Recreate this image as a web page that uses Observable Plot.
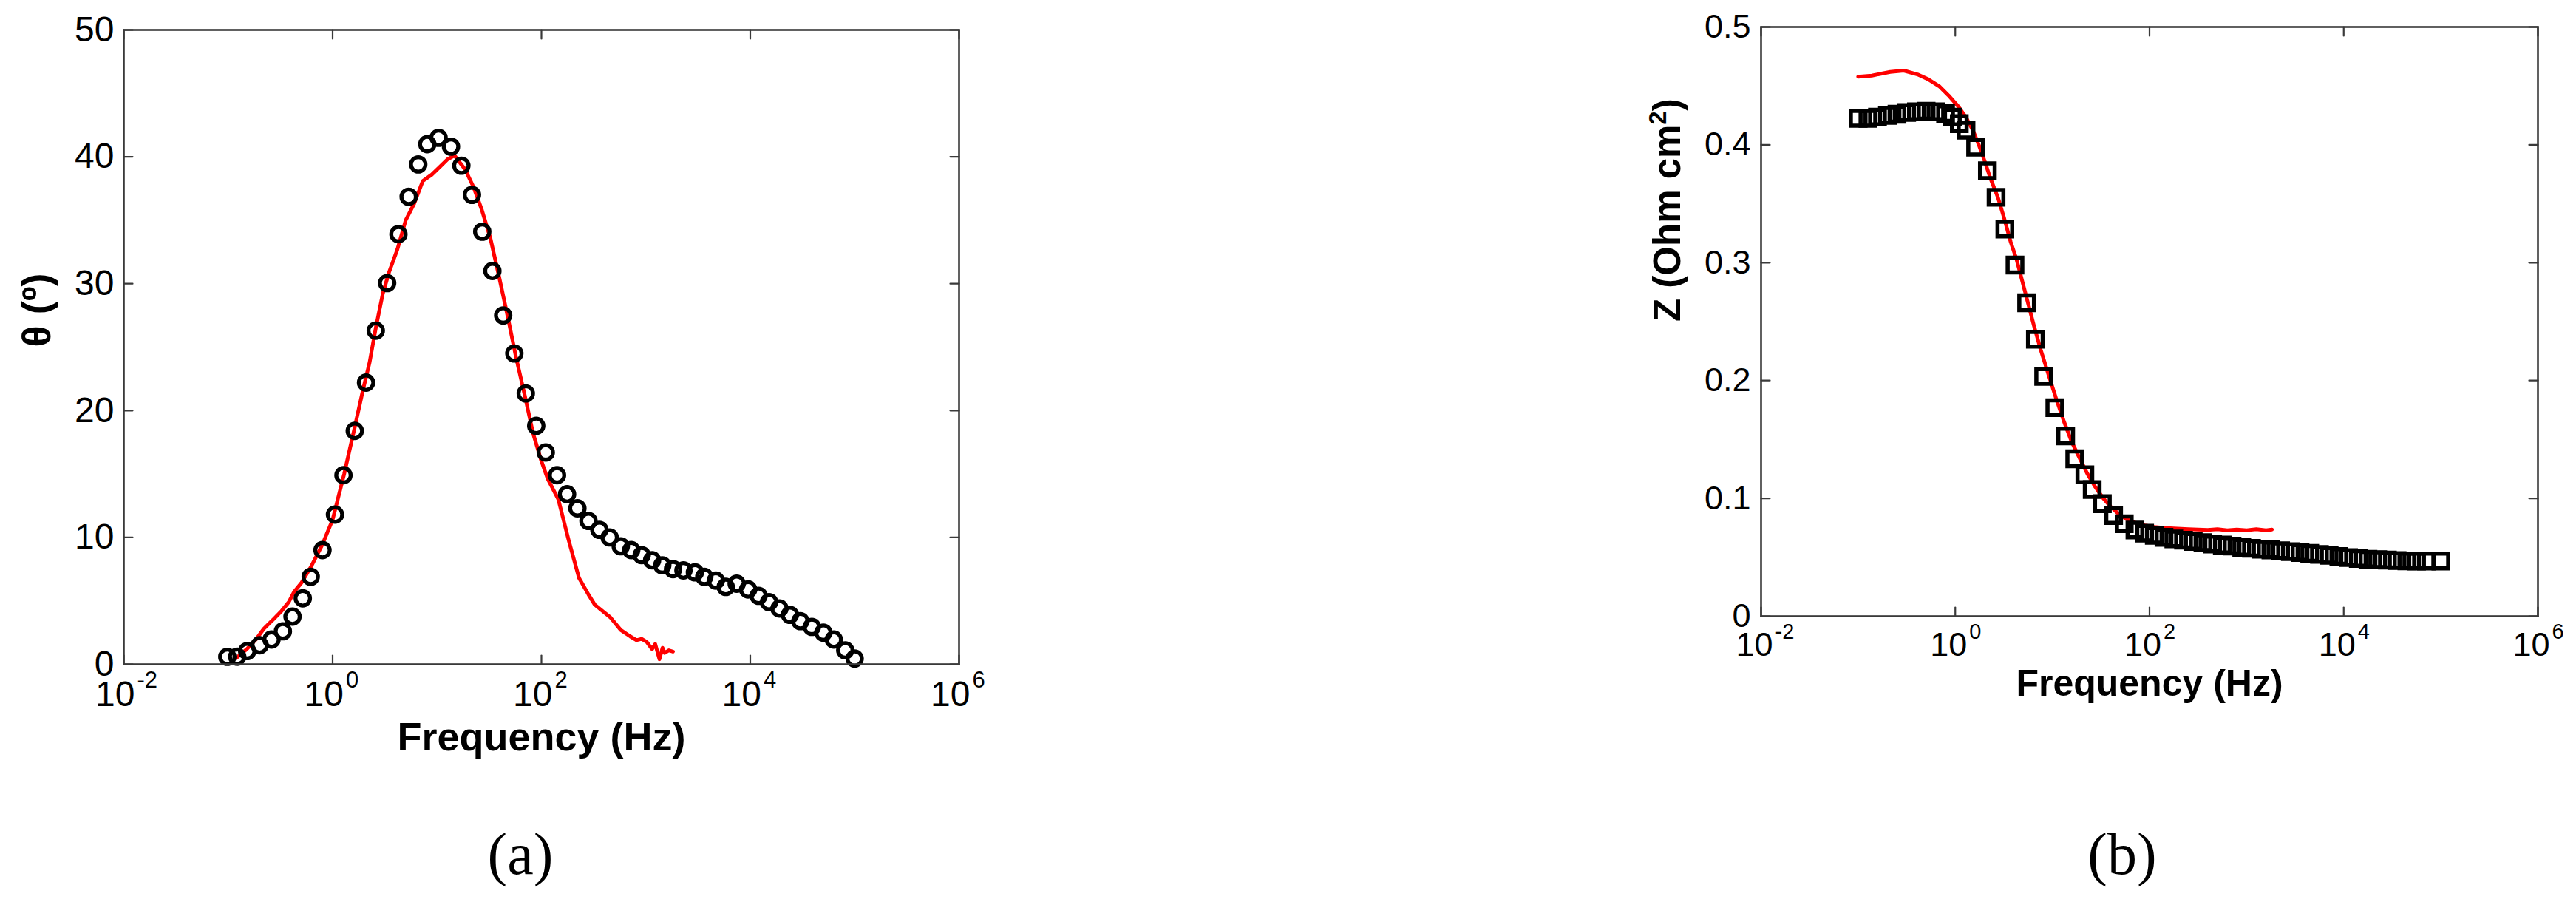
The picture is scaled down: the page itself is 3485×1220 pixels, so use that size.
<!DOCTYPE html>
<html>
<head>
<meta charset="utf-8">
<script src="https://cdn.jsdelivr.net/npm/d3@7"></script>
<script src="https://cdn.jsdelivr.net/npm/@observablehq/plot@0.6"></script>
<style>
  html, body { margin: 0; padding: 0; background: #fff; }
  #fig { position: relative; width: 3485px; height: 1220px; overflow: hidden; background: #fff; }
  .panel { position: absolute; top: 0; }
  .cap { position: absolute; top: 1115px; font-family: "Liberation Serif", "Times New Roman", serif;
         font-size: 80px; line-height: 80px; color: #000; transform: translateX(-50%); white-space: nowrap; }
</style>
</head>
<body>
<div id="fig">
  <div class="panel" id="pa" style="left:0px"></div>
  <div class="panel" id="pb" style="left:2100px"></div>
  <div class="cap" style="left:704px">(a)</div>
  <div class="cap" style="left:2871px">(b)</div>
</div>
<script>
// ---------------- data ----------------
// Panel (a): phase angle vs frequency
const freqA = [0.098, 0.122, 0.152, 0.200, 0.260, 0.334, 0.413, 0.518, 0.617, 0.80,
  1.054, 1.27, 1.63, 2.09, 2.59, 3.33, 4.27, 5.35, 6.61, 8.07,
  10.35, 13.6, 17.1, 21.6, 27.1, 33.9, 43.0, 55.0, 70.8, 89.1,
  110, 141, 176, 221, 282, 359, 450, 575, 724, 912,
  1148, 1436, 1820, 2291, 2951, 3631, 4677, 5821, 7413, 9550,
  12020, 15140, 19050, 23990, 30200, 38900, 50120, 63100, 81280, 100000];
const thetaA = [0.59, 0.6, 1.04, 1.5, 1.95, 2.6, 3.76, 5.2, 6.9, 9.0,
  11.8, 14.9, 18.4, 22.2, 26.3, 30.05, 33.9, 36.85, 39.4, 41.0,
  41.5, 40.8, 39.3, 37.0, 34.1, 31.0, 27.5, 24.5, 21.35, 18.8,
  16.7, 14.9, 13.4, 12.3, 11.3, 10.6, 10.0, 9.3, 9.0, 8.6,
  8.2, 7.8, 7.5, 7.4, 7.25, 6.9, 6.6, 6.1, 6.35, 5.9,
  5.4, 4.9, 4.4, 3.9, 3.4, 2.95, 2.5, 1.95, 1.1, 0.45];
const freqFitA = [0.120, 0.151, 0.186, 0.219, 0.275, 0.324, 0.380, 0.427, 0.501, 0.631,
  0.794, 1.0, 1.29, 1.62, 1.95, 2.26, 2.59, 3.02, 3.47, 4.17,
  5.01, 6.03, 7.31, 8.91, 10.6, 12.6, 14.7, 18.6, 22.4, 26.9,
  32.4, 39.4, 47.5, 57.1, 69.2, 83.2, 100, 115, 145, 182,
  229, 282, 324, 398, 457, 575, 708, 813, 912, 1023,
  1148, 1230, 1349, 1445, 1514, 1660, 1820];
const thetaFitA = [0.5, 1.2, 2.0, 2.8, 3.6, 4.2, 4.9, 5.7, 6.4, 7.8,
  9.4, 11.4, 15.0, 18.6, 21.6, 23.8, 26.5, 29.2, 30.9, 32.7,
  35.0, 36.3, 38.1, 38.6, 39.2, 39.8, 40.1, 39.0, 37.6, 35.8,
  33.6, 30.5, 27.4, 24.2, 21.2, 18.2, 16.0, 14.6, 13.0, 9.8,
  6.8, 5.5, 4.7, 4.1, 3.7, 2.7, 2.2, 1.9, 2.0, 1.75,
  1.2, 1.6, 0.4, 1.3, 0.9, 1.1, 1.0];

// Panel (b): impedance modulus vs frequency
const freqB = [0.1, 0.126, 0.158, 0.2, 0.251, 0.316, 0.398, 0.501, 0.631, 0.794,
  0.933, 1.10, 1.29, 1.62, 2.14, 2.63, 3.24, 4.12, 5.43, 6.68,
  8.13, 10.6, 13.7, 17.0, 21.6, 25.7, 32.7, 42.7, 55.0, 70.8,
  89.1, 112, 141, 178, 224, 282, 355, 447, 562, 708,
  891, 1122, 1413, 1778, 2239, 2818, 3548, 4467, 5623, 7079,
  8913, 11220, 14130, 17780, 22390, 28180, 35480, 44670, 56230, 70790, 100000];
const zB = [0.4225, 0.4225, 0.4235, 0.425, 0.426, 0.4275, 0.428, 0.4285, 0.428, 0.4265,
  0.4235, 0.418, 0.4125, 0.398, 0.378, 0.3555, 0.3285, 0.298, 0.266, 0.235,
  0.2035, 0.177, 0.153, 0.1336, 0.120, 0.1075, 0.0955, 0.0855, 0.0785, 0.0732,
  0.0705, 0.0686, 0.0670, 0.0656, 0.0645, 0.0635, 0.0624, 0.0613, 0.0604, 0.0595,
  0.0585, 0.0576, 0.0569, 0.0563, 0.0556, 0.0548, 0.0541, 0.0533, 0.0525, 0.0517,
  0.0507, 0.0498, 0.0490, 0.0484, 0.0480, 0.0477, 0.0473, 0.0470, 0.0469, 0.0469, 0.0469];
const freqFitB = [0.1, 0.138, 0.214, 0.295, 0.407, 0.525, 0.692, 0.851, 1.07, 1.29,
  1.53, 1.76, 2.0, 2.29, 2.75, 3.16, 3.72, 4.27, 4.90, 5.62,
  6.46, 7.59, 9.12, 11.0, 13.2, 15.8, 19.1, 22.9, 27.5, 33.1,
  39.8, 47.9, 57.5, 70.8, 89.1, 112, 141, 178, 251, 316,
  398, 501, 631, 794, 1000, 1259, 1585, 1820];
const zFitB = [0.4578, 0.4588, 0.4619, 0.463, 0.4598, 0.4557, 0.4494, 0.442, 0.4327, 0.4233,
  0.4118, 0.3992, 0.3866, 0.372, 0.3553, 0.3388, 0.3176, 0.303, 0.2842, 0.2654,
  0.2465, 0.226, 0.205, 0.184, 0.165, 0.148, 0.134, 0.121, 0.110, 0.1005,
  0.093, 0.087, 0.0825, 0.0795, 0.077, 0.0758, 0.075, 0.0745, 0.0738, 0.0735,
  0.0732, 0.0738, 0.073, 0.0735, 0.073, 0.0738, 0.073, 0.0735];

// Axis ticks
const xTickExp = [-2, 0, 2, 4, 6];
const yTicksA = [0, 10, 20, 30, 40, 50];
const yTicksB = [0, 0.1, 0.2, 0.3, 0.4, 0.5];

// ---------------- helpers ----------------
const axisColor = "#3a3a3a";
const tickShape = {draw(ctx, l) { ctx.moveTo(0, 0); ctx.lineTo(0, -l); }};
function boxTicks(xs, ys, len) {
  const o = {length: len, anchor: "start", shape: tickShape, stroke: axisColor, strokeWidth: 2.2};
  return [
    Plot.vector(xs, {x: d => d, frameAnchor: "bottom", rotate: 0, ...o}),
    Plot.vector(xs, {x: d => d, frameAnchor: "top", rotate: 180, ...o}),
    Plot.vector(ys, {y: d => d, frameAnchor: "left", rotate: 90, ...o}),
    Plot.vector(ys, {y: d => d, frameAnchor: "right", rotate: -90, ...o})
  ];
}
function xLogLabels(fs, fsSup, dxMain, dxSup, dyMain, dySup) {
  return [
    Plot.text(xTickExp, {x: d => Math.pow(10, d), text: () => "10", frameAnchor: "bottom",
      textAnchor: "end", dx: dxMain, dy: dyMain, fontSize: fs, fill: "#000"}),
    Plot.text(xTickExp, {x: d => Math.pow(10, d), text: d => String(d), frameAnchor: "bottom",
      textAnchor: "start", dx: dxSup, dy: dySup, fontSize: fsSup, fill: "#000"})
  ];
}
const font = "'Liberation Sans', Arial, Helvetica, sans-serif";

// ---------------- panel (a) ----------------
const dataA = freqA.map((f, i) => ({f, v: thetaA[i]}));
const fitA = freqFitA.map((f, i) => ({f, v: thetaFitA[i]}));
const plotA = Plot.plot({
  width: 1340, height: 1070,
  marginLeft: 167, marginRight: 43, marginTop: 40, marginBottom: 172,
  style: {fontFamily: font, background: "transparent", overflow: "visible", maxWidth: "none"},
  x: {type: "log", domain: [1e-2, 1e6], axis: null},
  y: {domain: [0, 50], axis: null},
  marks: [
    Plot.line(fitA, {x: "f", y: "v", stroke: "#ff0000", strokeWidth: 5}),
    Plot.dot(dataA, {x: "f", y: "v", r: 9.8, stroke: "#000", strokeWidth: 5.3, fill: "none"}),
    Plot.frame({stroke: axisColor, strokeWidth: 2.6}),
    ...boxTicks(xTickExp.map(e => Math.pow(10, e)), yTicksA, 12),
    Plot.axisY({ticks: yTicksA, tickSize: 0, tickPadding: 13, fontSize: 48, label: null, fill: "#000"}),
    ...xLogLabels(48, 31, 15, 18, 56, 31),
    Plot.text(["Frequency (Hz)"], {text: d => d, frameAnchor: "bottom", dy: 116, fontSize: 54, fontWeight: "bold", fill: "#000"}),
    Plot.text(["θ (º)"], {text: d => d, frameAnchor: "left", rotate: -90, dx: -117, fontSize: 54, fontWeight: "bold", fill: "#000"})
  ]
});
document.getElementById("pa").appendChild(plotA);

// ---------------- panel (b) ----------------
const dataB = freqB.map((f, i) => ({f, v: zB[i]}));
const fitB = freqFitB.map((f, i) => ({f, v: zFitB[i]}));
const plotB = Plot.plot({
  width: 1385, height: 1000,
  marginLeft: 282, marginRight: 52, marginTop: 36, marginBottom: 167,
  style: {fontFamily: font, background: "transparent", overflow: "visible", maxWidth: "none"},
  x: {type: "log", domain: [1e-2, 1e6], axis: null},
  y: {domain: [0, 0.5], axis: null},
  marks: [
    Plot.line(fitB, {x: "f", y: "v", stroke: "#ff0000", strokeWidth: 5}),
    Plot.dot(dataB, {x: "f", y: "v", symbol: "square", r: 11.2, stroke: "#000", strokeWidth: 5.5, fill: "none"}),
    Plot.frame({stroke: axisColor, strokeWidth: 2.6}),
    ...boxTicks(xTickExp.map(e => Math.pow(10, e)), yTicksB, 12),
    Plot.axisY({ticks: yTicksB, tickSize: 0, tickPadding: 14, fontSize: 45, label: null, fill: "#000",
      tickFormat: d => d === 0 ? "0" : d3.format(".1f")(d)}),
    ...xLogLabels(45, 29, 16, 19, 53, 30),
    Plot.text(["Frequency (Hz)"], {text: d => d, frameAnchor: "bottom", dy: 107, fontSize: 50, fontWeight: "bold", fill: "#000"}),
    Plot.text(["Z (Ohm cm2)"], {text: d => d, frameAnchor: "left", rotate: -90, dx: -126, fontSize: 51, fontWeight: "bold", fill: "#000"})
  ]
});
document.getElementById("pb").appendChild(plotB);

// superscript "2" in the y-axis title of panel (b)
plotB.querySelectorAll("text").forEach(t => {
  if (t.textContent === "Z (Ohm cm2)") {
    const ns = "http://www.w3.org/2000/svg";
    t.textContent = "";
    const a = document.createElementNS(ns, "tspan"); a.textContent = "Z (Ohm cm";
    const s = document.createElementNS(ns, "tspan"); s.textContent = "2";
    s.setAttribute("font-size", "33"); s.setAttribute("dy", "-19");
    const c = document.createElementNS(ns, "tspan"); c.textContent = ")"; c.setAttribute("dy", "19");
    t.appendChild(a); t.appendChild(s); t.appendChild(c);
  }
});
</script>
</body>
</html>
